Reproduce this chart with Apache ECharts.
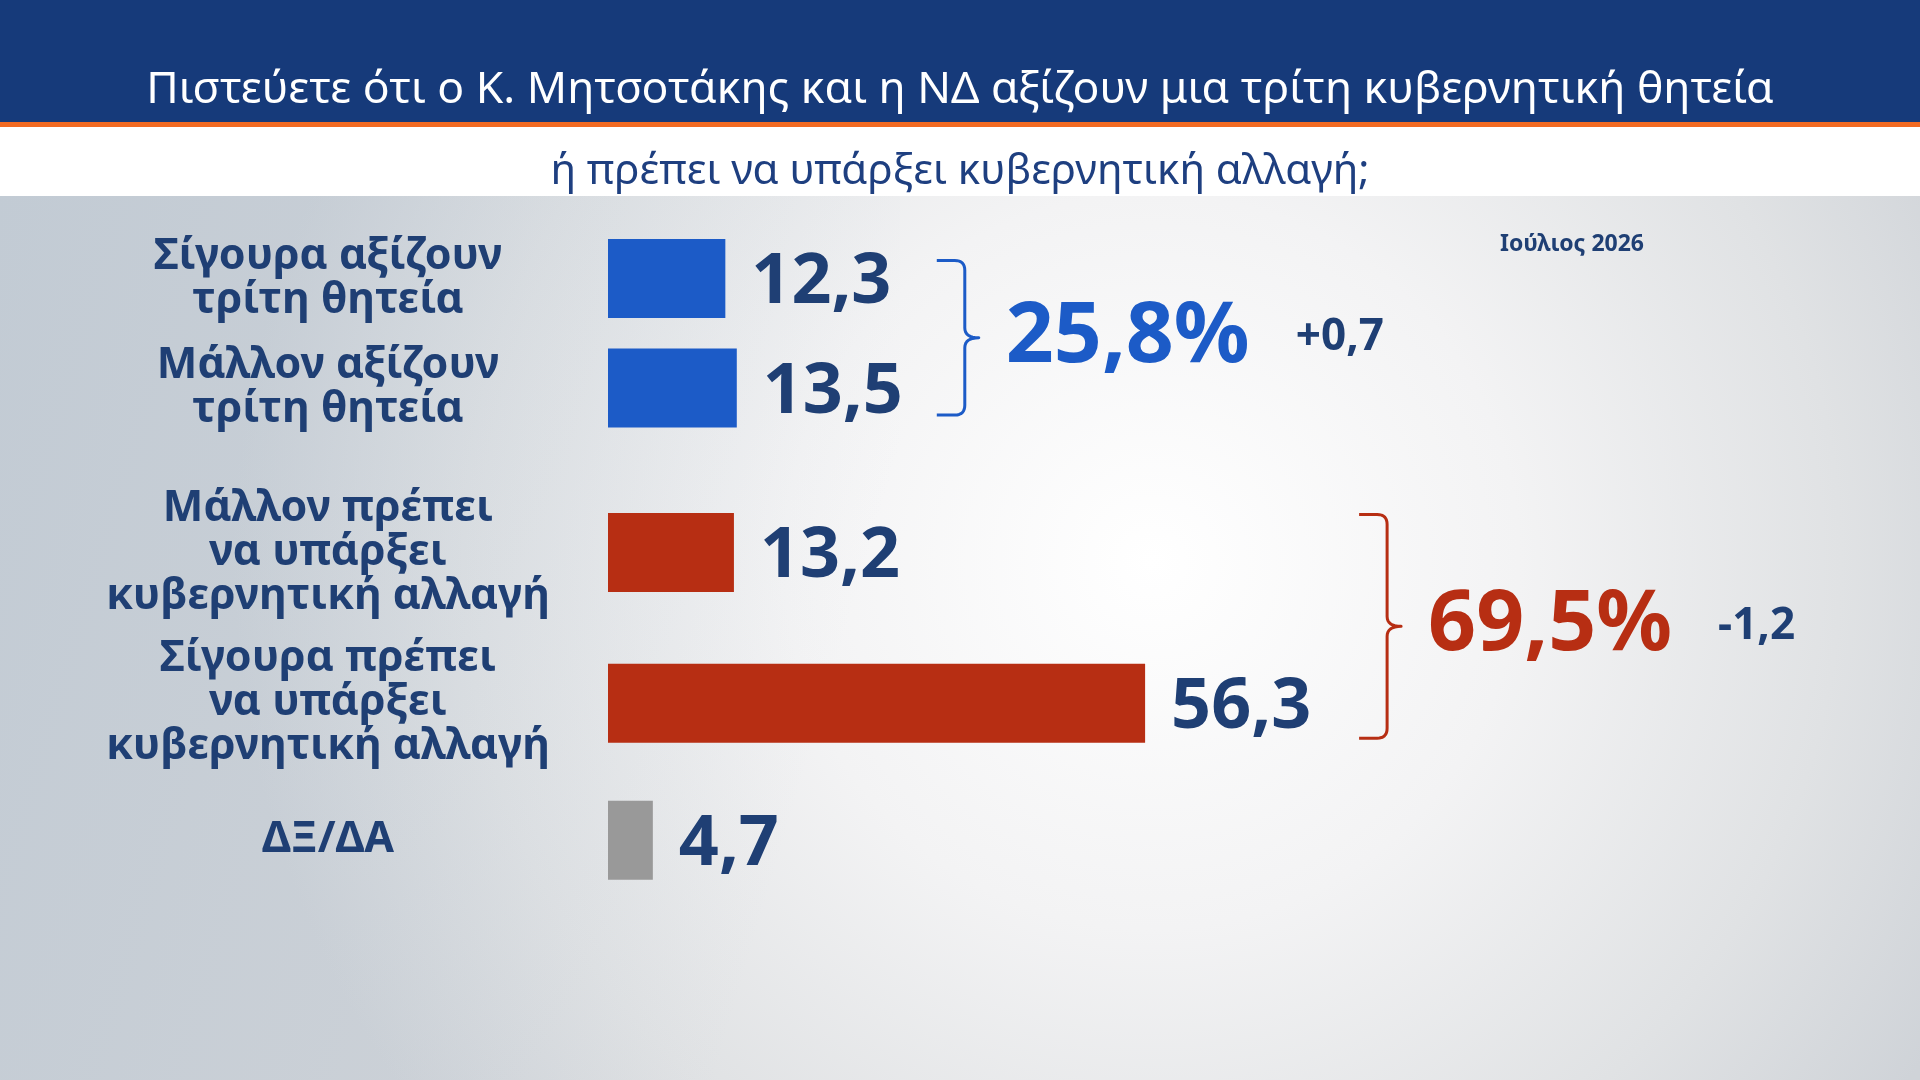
<!DOCTYPE html>
<html>
<head>
<meta charset="utf-8">
<script src="https://cdn.jsdelivr.net/npm/echarts@6/dist/echarts.min.js"></script>
<style>
html,body{margin:0;padding:0;width:1920px;height:1080px;overflow:hidden;}
#c{width:1920px;height:1080px;}
</style>
</head>
<body>
<div id="c"></div>
<script>
// ---------- DATA ----------
const titleText = 'Πιστεύετε ότι ο Κ. Μητσοτάκης και η ΝΔ αξίζουν μια τρίτη κυβερνητική θητεία';
const subtitleText = 'ή πρέπει να υπάρξει κυβερνητική αλλαγή;';
const surveyDate = 'Ιούλιος 2026';
const categories = [
  'Σίγουρα αξίζουν\nτρίτη θητεία',
  'Μάλλον αξίζουν\nτρίτη θητεία',
  'Μάλλον πρέπει\nνα υπάρξει\nκυβερνητική αλλαγή',
  'Σίγουρα πρέπει\nνα υπάρξει\nκυβερνητική αλλαγή',
  'ΔΞ/ΔΑ'
];
const values = [12.3, 13.5, 13.2, 56.3, 4.7];
const groupMembers = [[0, 1], [2, 3]];
const groupTotals = [25.8, 69.5];
const groupDeltas = ['+0,7', '-1,2'];

// ---------- LAYOUT / STYLE ----------
const barColors = ['#1c5bc7', '#1c5bc7', '#b72e13', '#b72e13', '#999999'];
const groupColors = ['#1c5bc7', '#b72e13'];
const navy = '#1f3f74';
const slotGaps = [8, 12, 11, 10];
const FONT = '"Noto Sans", sans-serif';

const slotIdx = [];
let p = 0;
categories.forEach((c, i) => { if (i > 0) p += slotGaps[i - 1]; slotIdx.push(p); });
const nSlots = p + 1;
const axisData = new Array(nSlots).fill('');
const seriesData = new Array(nSlots).fill('-');
categories.forEach((c, i) => {
  axisData[slotIdx[i]] = c;
  seriesData[slotIdx[i]] = { value: values[i], itemStyle: { color: barColors[i] } };
});
const fmt = v => String(v).replace('.', ',');

const chart = echarts.init(document.getElementById('c'), null, { renderer: 'canvas' });

const slotH = 13.7;
const gridTop = 278.5 - slotH / 2;

const option = {
  animation: false,
  backgroundColor: {
    type: 'radial', x: 0.6, y: 0.52, r: 0.85,
    colorStops: [
      { offset: 0, color: '#ffffff' },
      { offset: 0.4, color: '#f3f3f4' },
      { offset: 0.75, color: '#e0e2e4' },
      { offset: 1, color: '#cfd3d8' }
    ]
  },
  title: [
    { text: titleText, left: 'center', top: 63,
      textStyle: { color: '#ffffff', fontSize: 44.5, fontWeight: 'normal', fontFamily: FONT } },
    { text: subtitleText, left: 'center', top: 146,
      textStyle: { color: '#1e3f80', fontSize: 42, fontWeight: 'normal', fontFamily: FONT } },
    { text: surveyDate, left: 1567, top: 228, textAlign: 'center',
      textStyle: { color: navy, fontSize: 23, fontWeight: 'bold', fontFamily: FONT } }
  ],
  grid: { left: 608, right: 358, top: gridTop, height: nSlots * slotH, containLabel: false },
  xAxis: { type: 'value', min: 0, max: 100, show: false },
  yAxis: {
    type: 'category', inverse: true, data: axisData,
    axisLine: { show: false }, axisTick: { show: false }, splitLine: { show: false },
    axisLabel: {
      interval: 0, margin: 280, align: 'center',
      color: navy, fontSize: 43, fontWeight: 'bold', fontFamily: FONT, lineHeight: 44
    }
  },
  series: [{
    type: 'bar', data: seriesData, barWidth: 79, clip: false,
    label: {
      show: true, position: 'right', distance: 26, offset: [0, 5],
      color: navy, fontSize: 70, fontWeight: 'bold', fontFamily: FONT,
      formatter: p => fmt(p.value)
    }
  }]
};
chart.setOption(option);

// header + annotations
const W = 1920;
const graphics = [
  { type: 'rect', id: 'tint', z: -2, silent: true, shape: { x: 0, y: 196, width: 900, height: 884 },
    style: { fill: { type: 'linear', x: 0, y: 0, x2: 1, y2: 0.3, colorStops: [
      { offset: 0, color: 'rgba(170,188,205,0.35)' }, { offset: 1, color: 'rgba(170,188,205,0)' } ] } } },
  { type: 'rect', id: 'hdr', z: -1, shape: { x: 0, y: 0, width: W, height: 122 }, style: { fill: '#163a7a' } },
  { type: 'rect', id: 'org', z: -1, shape: { x: 0, y: 122, width: W, height: 5 }, style: { fill: '#f26a22' } },
  { type: 'rect', id: 'wht', z: -1, shape: { x: 0, y: 127, width: W, height: 69 }, style: { fill: '#ffffff' } }
];

function quad(pts, p0, c, p1) {
  for (let t = 1; t <= 8; t++) {
    const s = t / 8, u = 1 - s;
    pts.push([u * u * p0[0] + 2 * u * s * c[0] + s * s * p1[0], u * u * p0[1] + 2 * u * s * c[1] + s * s * p1[1]]);
  }
}

const braceGap = [200, 214];
const braceTopOff = [18, 38];
const braceBotOff = [27, 35];
const totalWidth = 290;
groupMembers.forEach((m, g) => {
  const a = chart.convertToPixel({ seriesIndex: 0 }, [values[m[0]], slotIdx[m[0]]]);
  const b = chart.convertToPixel({ seriesIndex: 0 }, [values[m[1]], slotIdx[m[1]]]);
  const xEnd = Math.max(a[0], b[0]);
  const x0 = xEnd + braceGap[g];
  const x1 = x0 + 28, x2 = x0 + 42, r = 10;
  const top = a[1] - braceTopOff[g], bot = b[1] + braceBotOff[g];
  const tip = (top + bot) / 2;
  const pts = [[x0, top], [x1 - r, top]];
  quad(pts, [x1 - r, top], [x1, top], [x1, top + r]);
  pts.push([x1, tip - r]);
  quad(pts, [x1, tip - r], [x1, tip], [x2, tip]);
  quad(pts, [x2, tip], [x1, tip], [x1, tip + r]);
  pts.push([x1, bot - r]);
  quad(pts, [x1, bot - r], [x1, bot], [x1 - r, bot]);
  pts.push([x0, bot]);
  graphics.push({
    type: 'polyline', id: 'brace' + g, shape: { points: pts },
    style: { stroke: groupColors[g], lineWidth: 3, fill: null, lineJoin: 'round' }
  });
  const totalText = fmt(groupTotals[g]) + '%';
  const tx = x2 + 27;
  graphics.push({
    type: 'text', id: 'tot' + g, x: tx, y: tip,
    style: { text: totalText, fill: groupColors[g], font: `bold 84px ${FONT}`, textVerticalAlign: 'middle', textAlign: 'left' }
  });
  graphics.push({
    type: 'text', id: 'dlt' + g, x: tx + totalWidth, y: tip,
    style: { text: groupDeltas[g], fill: navy, font: `bold 44px ${FONT}`, textVerticalAlign: 'middle', textAlign: 'left' }
  });
});
chart.setOption({ graphic: graphics });
</script>
</body>
</html>
